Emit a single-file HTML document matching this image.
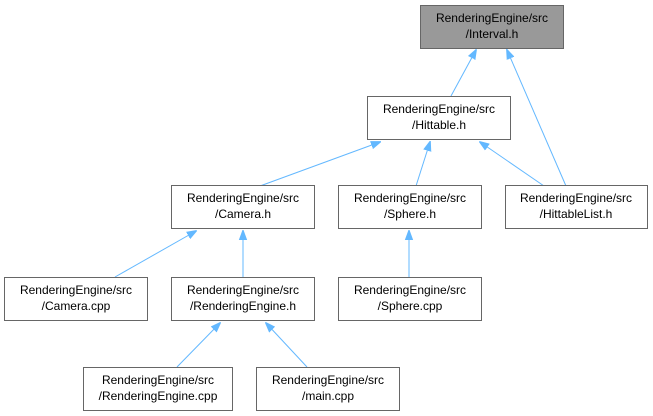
<!DOCTYPE html>
<html><head><style>body{margin:0;background:#fff}svg{display:block}text{font-family:"Liberation Sans",Arial,sans-serif;font-size:12px;fill:#000}</style></head><body>
<svg width="653" height="416" viewBox="0 0 653 416" xmlns="http://www.w3.org/2000/svg">
<defs><marker id="a" markerWidth="10" markerHeight="10" refX="1" refY="5" orient="auto" markerUnits="userSpaceOnUse"><path d="M11,1 L0,5 L11,9 Z" fill="#63b8ff" stroke="#63b8ff"/></marker></defs>
<g stroke="#63b8ff" stroke-width="1" fill="none" marker-start="url(#a)">
<path d="M476,50 L451,96"/>
<path d="M507,50 L566,186"/>
<path d="M380,142 L260,186"/>
<path d="M430,142 L416,186"/>
<path d="M480,142 L544,186"/>
<path d="M196,231 L115,277"/>
<path d="M243,231 L243,277"/>
<path d="M409,231 L409,277"/>
<path d="M220,323 L177,367"/>
<path d="M266,323 L307,367"/>
</g>
<g stroke="#666" stroke-width="1">
<rect x="420.5" y="5.5" width="143" height="43" fill="#999"/>
<rect x="367.5" y="96.5" width="143" height="43" fill="#fff"/>
<rect x="171.5" y="185.5" width="143" height="43" fill="#fff"/>
<rect x="338.5" y="185.5" width="143" height="43" fill="#fff"/>
<rect x="505.5" y="185.5" width="142" height="43" fill="#fff"/>
<rect x="4.5" y="277.5" width="143" height="43" fill="#fff"/>
<rect x="171.5" y="277.5" width="143" height="43" fill="#fff"/>
<rect x="338.5" y="277.5" width="143" height="43" fill="#fff"/>
<rect x="83.5" y="367.5" width="149" height="43" fill="#fff"/>
<rect x="256.5" y="367.5" width="143" height="43" fill="#fff"/>
</g>
<g text-anchor="middle">
<text x="492" y="22">RenderingEngine/src</text><text x="492" y="38">/Interval.h</text>
<text x="439" y="113">RenderingEngine/src</text><text x="439" y="129">/Hittable.h</text>
<text x="243" y="202">RenderingEngine/src</text><text x="243" y="218">/Camera.h</text>
<text x="410" y="202">RenderingEngine/src</text><text x="410" y="218">/Sphere.h</text>
<text x="576" y="202">RenderingEngine/src</text><text x="576" y="218">/HittableList.h</text>
<text x="76" y="294">RenderingEngine/src</text><text x="76" y="310">/Camera.cpp</text>
<text x="243" y="294">RenderingEngine/src</text><text x="243" y="310">/RenderingEngine.h</text>
<text x="410" y="294">RenderingEngine/src</text><text x="410" y="310">/Sphere.cpp</text>
<text x="158" y="384">RenderingEngine/src</text><text x="158" y="400">/RenderingEngine.cpp</text>
<text x="328" y="384">RenderingEngine/src</text><text x="328" y="400">/main.cpp</text>
</g>
</svg>
</body></html>
